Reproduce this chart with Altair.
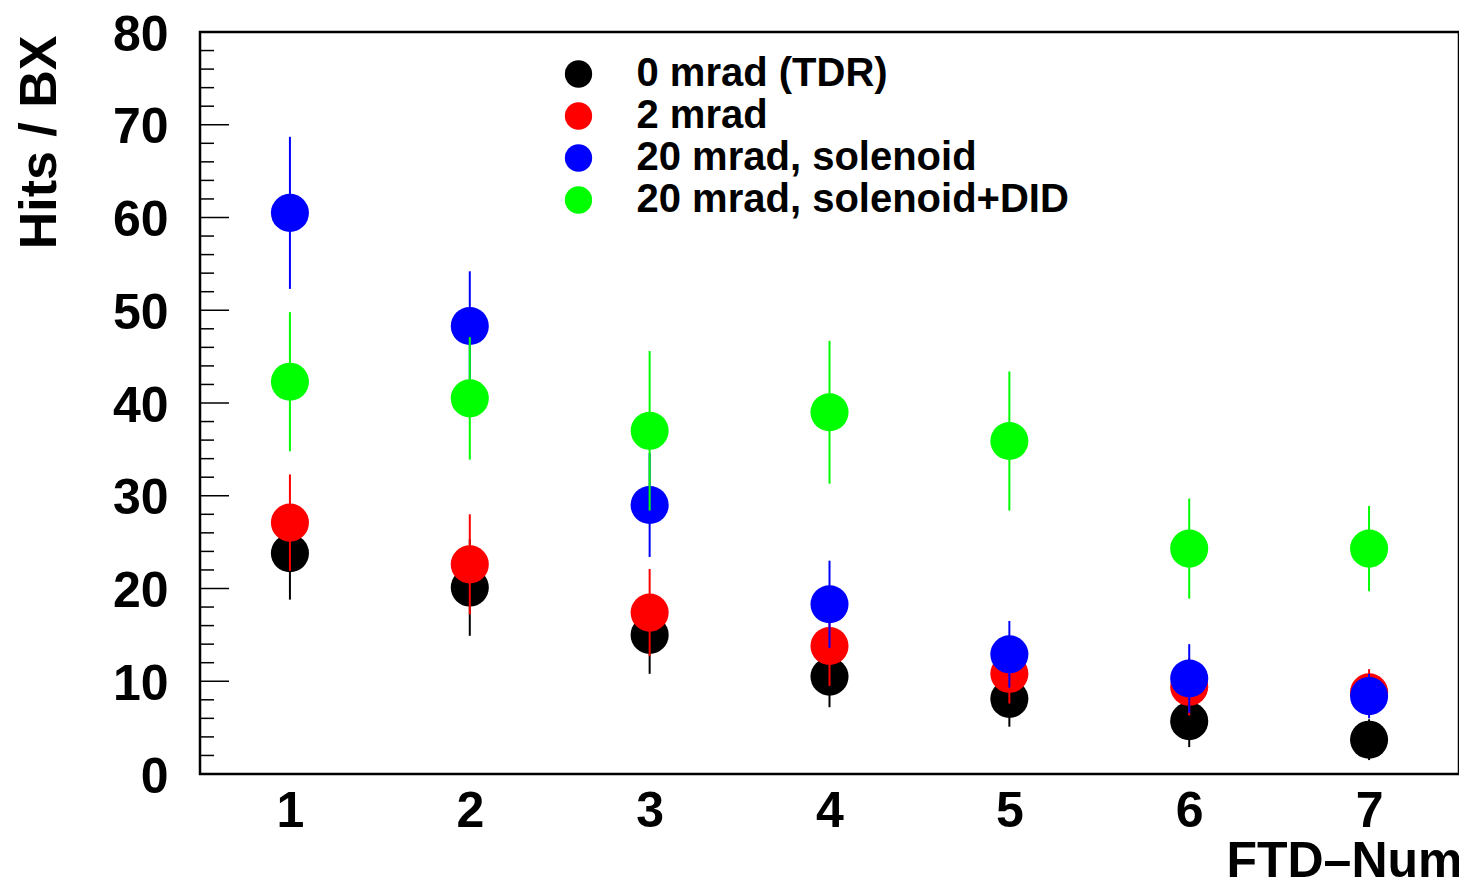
import altair as alt
import pandas as pd

# ---- data ----
ftd = [1, 2, 3, 4, 5, 6, 7]
series_names = ["0 mrad (TDR)", "2 mrad", "20 mrad, solenoid", "20 mrad, solenoid+DID"]
series_colors = ["#000000", "#ff0000", "#0000ff", "#00ff00"]

hits_0mrad = [23.8, 20.1, 15.0, 10.5, 8.1, 5.7, 3.7]
err_0mrad = [5.0, 5.2, 4.2, 3.3, 3.0, 2.8, 2.2]
hits_2mrad = [27.1, 22.6, 17.4, 13.8, 10.8, 9.4, 8.8]
err_2mrad = [5.2, 5.4, 4.7, 4.3, 3.2, 3.1, 2.5]
hits_20sol = [60.5, 48.3, 29.0, 18.3, 12.9, 10.3, 8.4]
err_20sol = [8.2, 5.9, 5.6, 4.7, 3.6, 3.7, 2.4]
hits_20did = [42.3, 40.5, 37.0, 39.0, 35.9, 24.3, 24.3]
err_20did = [7.5, 6.6, 8.6, 7.7, 7.5, 5.4, 4.6]

y_major = [0, 10, 20, 30, 40, 50, 60, 70, 80]
y_minor = [2, 4, 6, 8, 12, 14, 16, 18, 22, 24, 26, 28, 32, 34, 36, 38,
           42, 44, 46, 48, 52, 54, 56, 58, 62, 64, 66, 68, 72, 74, 76, 78]
x_labels = [1, 2, 3, 4, 5, 6, 7]

x_title = "FTD–Num"
y_title = "Hits / BX"

# ---- tables ----
all_hits = [hits_0mrad, hits_2mrad, hits_20sol, hits_20did]
all_errs = [err_0mrad, err_2mrad, err_20sol, err_20did]
rows = []
for name, hv, ev in zip(series_names, all_hits, all_errs):
    for f, h, e in zip(ftd, hv, ev):
        rows.append({"series": name, "ftd": f, "hits": h, "lo": h - e, "hi": h + e})
df = pd.DataFrame(rows)
major_df = pd.DataFrame({"hits": y_major})
minor_df = pd.DataFrame({"hits": y_minor})

FONT = "Liberation Sans"

xscale = alt.Scale(domain=[0.5, 7.5], nice=False, zero=False)
yscale = alt.Scale(domain=[0, 80], nice=False, zero=False)

xaxis = alt.Axis(values=x_labels, format="d", ticks=False, domain=False, grid=False,
                 labelFont=FONT, labelFontWeight="bold", labelFontSize=50, labelColor="black",
                 labelPadding=12, labelFlush=False, labelOverlap=False, labelBound=False,
                 title=x_title, titleFont=FONT, titleFontWeight="bold", titleFontSize=50,
                 titleColor="black", titleX=1262, titleY=102, titleAlign="right",
                 titleBaseline="alphabetic")
yaxis = alt.Axis(values=y_major, format="d", ticks=False, domain=False, grid=False,
                 labelFont=FONT, labelFontWeight="bold", labelFontSize=50, labelColor="black",
                 labelPadding=32, labelOffset=3, labelFlush=False, labelOverlap=False,
                 labelBound=False,
                 title=y_title, titleFont=FONT, titleFontWeight="bold", titleFontSize=52,
                 titleColor="black", titleX=-145, titleY=3, titleAlign="right",
                 titleBaseline="alphabetic", titleAngle=270)

cscale = alt.Scale(domain=series_names, range=series_colors)
legend = alt.Legend(orient="none", legendX=358.5, legendY=22, title=None, padding=0,
                    labelFont=FONT, labelFontWeight="bold", labelFontSize=40, labelColor="black",
                    labelLimit=2000, labelOffset=38, symbolType="circle", symbolSize=745,
                    symbolStrokeWidth=0, symbolOpacity=1, rowPadding=2, labelBaseline="middle")

X = alt.X("ftd:Q", scale=xscale, axis=xaxis, title=x_title)

layers = []
layers.append(alt.Chart(major_df).mark_rule(color="black", strokeWidth=1.5).encode(
    y=alt.Y("hits:Q", scale=yscale, axis=yaxis, title=y_title),
    x=alt.value(0), x2=alt.value(29)))
layers.append(alt.Chart(minor_df).mark_rule(color="black", strokeWidth=1.5).encode(
    y=alt.Y("hits:Q", scale=yscale, axis=yaxis, title=y_title),
    x=alt.value(0), x2=alt.value(14)))

for name, col in zip(series_names, series_colors):
    base = alt.Chart(df).transform_filter(alt.datum.series == name)
    layers.append(base.mark_rule(color=col, strokeWidth=2).encode(
        x=X,
        y=alt.Y("lo:Q", scale=yscale, axis=yaxis, title=y_title),
        y2="hi:Q"))
    layers.append(base.mark_circle(size=1450, opacity=1).encode(
        x=X,
        y=alt.Y("hits:Q", scale=yscale, axis=yaxis, title=y_title),
        color=alt.Color("series:N", scale=cscale, legend=legend)))

chart = alt.layer(*layers).properties(
    width=1259, height=742,
    autosize=alt.AutoSizeParams(type="none"),
    padding={"left": 192, "top": 24, "right": 0, "bottom": 104},
    title=alt.TitleParams(text="g", frame="group", anchor="start", orient="top",
                          baseline="alphabetic", offset=31, dx=221,
                          font="Liberation Serif", fontSize=56, fontWeight="normal",
                          color="#ff00ff"),
).configure(
    background="white",
    view=alt.ViewConfig(stroke="black", strokeWidth=2.5),
)

chart.save("out.html", embed_options={"renderer": "svg", "actions": False})
